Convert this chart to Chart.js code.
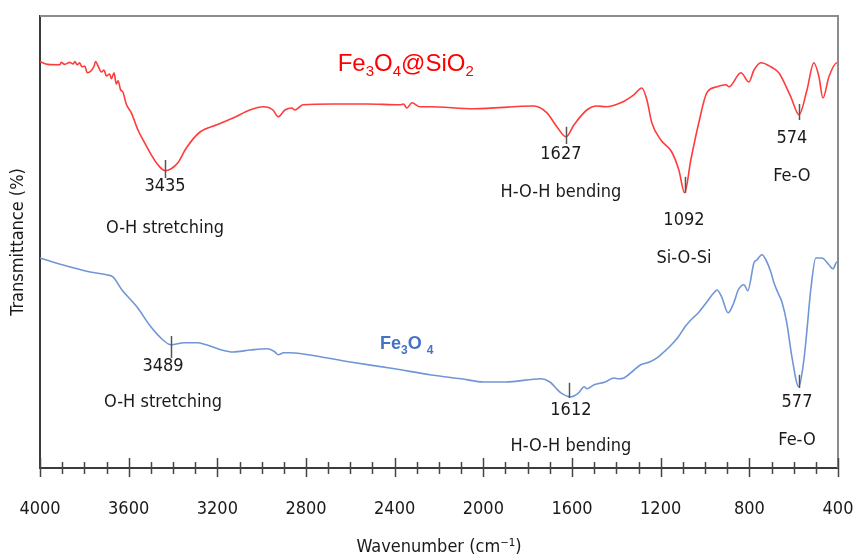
<!DOCTYPE html>
<html>
<head>
<meta charset="utf-8">
<script src="https://cdn.jsdelivr.net/npm/chart.js@4.4.1/dist/chart.umd.min.js"></script>
<style>
  html, body { margin: 0; padding: 0; background: #fff; }
  #wrap { width: 854px; height: 556px; }
</style>
</head>
<body>
<div id="wrap"><canvas id="ftirChart" width="854" height="556"></canvas></div>
<script>
// Fe3O4@SiO2 spectrum (wavenumber cm-1, transmittance a.u.)
const silicaWn = [4000, 3964, 3911, 3904, 3889, 3866, 3851, 3843, 3832, 3821, 3811, 3798, 3787, 3769, 3756, 3749, 3738, 3723, 3711, 3701,
    3686, 3678, 3666, 3656, 3648, 3636, 3626, 3611, 3588, 3558, 3528, 3498, 3468, 3435, 3408, 3378, 3340, 3278, 3202, 3129,
    3053, 2994, 2949, 2926, 2895, 2864, 2850, 2814, 2678, 2525, 2376, 2360, 2345, 2322, 2286, 2241, 2042, 1772, 1713, 1668,
    1627, 1591, 1533, 1488, 1447, 1380, 1321, 1285, 1262, 1240, 1199, 1150, 1118, 1092, 1064, 1028, 992, 946, 905, 892,
    838, 802, 779, 748, 703, 667, 613, 576, 540, 509, 486, 468, 441, 405, 400];
const silicaT = [101.6, 100.9, 100.8, 101.4, 100.9, 101.4, 101.0, 101.6, 100.8, 101.3, 100.3, 100.5, 98.8, 99.3, 100.5, 101.6, 100.5, 99.0, 99.5, 98.0,
    98.5, 97.3, 98.8, 96.0, 96.8, 94.5, 94.0, 91.0, 88.8, 84.5, 81.3, 78.3, 75.8, 74.3, 74.8, 76.3, 80.0, 84.0, 85.8, 87.5,
    89.5, 90.3, 89.5, 87.8, 89.5, 90.0, 89.5, 90.8, 91.0, 91.0, 90.8, 91.0, 90.0, 91.3, 90.3, 90.3, 89.8, 90.5, 88.8, 85.3,
    82.8, 85.8, 89.5, 90.5, 90.3, 91.3, 93.3, 95.0, 92.0, 86.3, 82.0, 79.0, 74.5, 68.8, 77.0, 86.3, 93.8, 95.3, 95.8, 95.3,
    98.8, 96.5, 99.5, 101.3, 100.3, 98.8, 92.8, 88.3, 94.5, 101.3, 97.8, 92.5, 97.8, 101.3, 101.3];

// Fe3O4 spectrum
const bareWn = [4000, 3900, 3774, 3700, 3671, 3630, 3563, 3500, 3445, 3409, 3350, 3292, 3250, 3180, 3130, 3050, 2976, 2940, 2926, 2900,
    2872, 2814, 2600, 2400, 2241, 2100, 1997, 1900, 1740, 1700, 1650, 1605, 1570, 1545, 1533, 1500, 1450, 1410, 1390, 1366,
    1320, 1290, 1250, 1210, 1186, 1160, 1120, 1090, 1064, 1030, 992, 960, 946, 925, 896, 870, 850, 824, 807, 779,
    766, 743, 725, 703, 689, 667, 653, 631, 608, 577, 554, 540, 523, 500, 473, 441, 423, 405, 400];
const bareT = [52.5, 50.8, 49.0, 48.3, 47.8, 44.5, 40.3, 35.3, 32.0, 30.8, 31.3, 31.3, 30.8, 29.5, 29.0, 29.5, 29.8, 29.0, 28.3, 28.8,
    28.8, 28.5, 26.5, 24.8, 23.3, 22.3, 21.5, 21.5, 22.3, 21.5, 18.8, 17.8, 18.8, 20.3, 19.8, 20.8, 21.5, 22.5, 22.3, 22.5,
    24.5, 25.8, 26.5, 27.8, 29.0, 30.3, 32.8, 35.3, 37.0, 38.8, 41.5, 43.8, 44.5, 42.8, 38.8, 41.3, 44.5, 45.8, 44.3, 51.3,
    52.0, 53.3, 52.0, 49.0, 46.3, 43.3, 41.5, 36.3, 27.8, 20.3, 27.0, 34.5, 44.5, 52.5, 52.5, 50.8, 49.8, 51.5, 51.5];

// x axis labels every 400, minor ticks every 100
const majorTicks = [4000, 3600, 3200, 2800, 2400, 2000, 1600, 1200, 800, 400];

// peak markers: wavenumber, marker top / bottom (transmittance)
const silicaMarkWn = [3435, 1627, 1092, 574];
const silicaMarkTop = [77.0, 85.3, 72.8, 91.0];
const silicaMarkBottom = [72.5, 81.0, 68.8, 87.0];
const bareMarkWn = [3410, 1614, 577];
const bareMarkTop = [33.0, 21.3, 23.3];
const bareMarkBottom = [27.5, 17.5, 20.0];

// peak annotations: text, anchor wavenumber, transmittance of number and of band name
const silicaPeakText = ['3435', '1627', '1092', '574'];
const silicaBandText = ['O-H stretching', 'H-O-H bending', 'Si-O-Si', 'Fe-O'];
const silicaTextWn = [3436, 1650, 1095, 608];
const silicaPeakY = [70.5, 78.3, 62.0, 82.5];
const silicaBandY = [60.0, 68.8, 52.5, 72.8];
const barePeakText = ['3489', '1612', '577'];
const bareBandText = ['O-H stretching', 'H-O-H bending', 'Fe-O'];
const bareTextWn = [3445, 1605, 585];
const barePeakY = [25.3, 14.5, 16.3];
const bareBandY = [16.3, 5.3, 7.0];

const FONT_FAMILY = '"DejaVu Sans Condensed", "Liberation Sans Narrow", sans-serif';
const NOTE_FONT = '18px ' + FONT_FAMILY;
const TEXT_COLOR = '#1a1a1a';

function toPoints(xs, ys) {
    return xs.map((x, i) => ({ x: x, y: ys[i] }));
}

// draws frame, axis ticks, peak markers and the annotation texts
const decorPlugin = {
    id: 'decor',
    afterDraw(chart) {
        const ctx = chart.ctx;
        const area = chart.chartArea;
        const xs = chart.scales.x;
        const ys = chart.scales.y;
        ctx.save();

        // top and right frame
        ctx.strokeStyle = '#8c8c8c';
        ctx.lineWidth = 2;
        ctx.beginPath();
        ctx.moveTo(area.left, area.top);
        ctx.lineTo(area.right, area.top);
        ctx.lineTo(area.right, area.bottom);
        ctx.stroke();

        // x axis tick marks crossing the axis line
        ctx.strokeStyle = '#444';
        ctx.lineWidth = 1.5;
        xs.ticks.forEach(t => {
            const px = Math.round(xs.getPixelForValue(t.value)) + 0.5;
            const major = majorTicks.includes(t.value);
            ctx.beginPath();
            ctx.moveTo(px, area.bottom - (major ? 10 : 6));
            ctx.lineTo(px, area.bottom + (major ? 9 : 6));
            ctx.stroke();
        });

        // peak markers
        ctx.strokeStyle = '#555';
        ctx.lineWidth = 1.5;
        const marks = (wn, top, bot) => wn.forEach((w, i) => {
            const px = Math.round(xs.getPixelForValue(w)) + 0.5;
            ctx.beginPath();
            ctx.moveTo(px, ys.getPixelForValue(top[i]));
            ctx.lineTo(px, ys.getPixelForValue(bot[i]));
            ctx.stroke();
        });
        marks(silicaMarkWn, silicaMarkTop, silicaMarkBottom);
        marks(bareMarkWn, bareMarkTop, bareMarkBottom);

        // annotation texts
        ctx.fillStyle = TEXT_COLOR;
        ctx.font = NOTE_FONT;
        ctx.textAlign = 'center';
        ctx.textBaseline = 'middle';
        const notes = (wn, peakTxt, peakY, bandTxt, bandY) => wn.forEach((w, i) => {
            const px = xs.getPixelForValue(w);
            ctx.fillText(peakTxt[i], px, ys.getPixelForValue(peakY[i]));
            ctx.fillText(bandTxt[i], px, ys.getPixelForValue(bandY[i]));
        });
        notes(silicaTextWn, silicaPeakText, silicaPeakY, silicaBandText, silicaBandY);
        notes(bareTextWn, barePeakText, barePeakY, bareBandText, bareBandY);

        // series labels with subscripts
        const label = (parts, x, y, font, subFont, color, subDrop) => {
            ctx.fillStyle = color;
            ctx.textAlign = 'left';
            ctx.textBaseline = 'alphabetic';
            let cx = x;
            parts.forEach(p => {
                ctx.font = p.sub ? subFont : font;
                ctx.fillText(p.t, cx, p.sub ? y + subDrop : y);
                cx += ctx.measureText(p.t).width + (p.gap || 0);
            });
        };
        label([{ t: 'Fe' }, { t: '3', sub: true }, { t: 'O' }, { t: '4', sub: true }, { t: '@SiO' }, { t: '2', sub: true }],
            xs.getPixelForValue(2657), ys.getPixelForValue(99.3),
            '24px "Liberation Sans", Arial, sans-serif', '15px "Liberation Sans", Arial, sans-serif', '#ff0000', 5);
        label([{ t: 'Fe' }, { t: '3', sub: true }, { t: 'O', gap: 5 }, { t: '4', sub: true }],
            xs.getPixelForValue(2466), ys.getPixelForValue(29.8),
            'bold 18px "Liberation Sans", Arial, sans-serif', 'bold 12px "Liberation Sans", Arial, sans-serif', '#4472c4', 5);

        ctx.restore();
    }
};

const ctx = document.getElementById('ftirChart').getContext('2d');
new Chart(ctx, {
    type: 'line',
    data: {
        datasets: [
            {
                label: 'Fe3O4@SiO2',
                data: toPoints(silicaWn, silicaT),
                borderColor: '#ff3b3b',
                borderWidth: 1.6,
                pointRadius: 0,
                fill: false,
                cubicInterpolationMode: 'monotone'
            },
            {
                label: 'Fe3O4',
                data: toPoints(bareWn, bareT),
                borderColor: '#7096d6',
                borderWidth: 1.6,
                pointRadius: 0,
                fill: false,
                cubicInterpolationMode: 'monotone'
            }
        ]
    },
    options: {
        responsive: false,
        animation: false,
        layout: { padding: { top: 16, right: 16, left: 0, bottom: 0 } },
        plugins: {
            legend: { display: false },
            tooltip: { enabled: false }
        },
        scales: {
            x: {
                type: 'linear',
                reverse: true,
                min: 400,
                max: 4000,
                afterFit: s => { s.height = 88; s.paddingLeft = 0; s.paddingRight = 0; },
                afterBuildTicks: s => {
                    s.ticks = [];
                    for (let v = 4000; v >= 400; v -= 100) s.ticks.push({ value: v });
                },
                grid: { display: false, drawTicks: false },
                border: { display: true, color: '#3c3c3c', width: 2 },
                ticks: {
                    autoSkip: false,
                    maxRotation: 0,
                    padding: 31,
                    color: TEXT_COLOR,
                    font: { family: FONT_FAMILY, size: 18 },
                    callback: v => majorTicks.includes(v) ? String(v) : ''
                },
                title: {
                    display: true,
                    text: 'Wavenumber (cm\u207B\u00B9)',
                    color: TEXT_COLOR,
                    padding: { top: 0, bottom: 0 },
                    font: { family: FONT_FAMILY, size: 18, lineHeight: 1 }
                }
            },
            y: {
                min: 0,
                max: 113,
                afterFit: s => { s.width = 40; s.paddingTop = 0; s.paddingBottom = 0; },
                grid: { display: false, drawTicks: false },
                border: { display: true, color: '#3c3c3c', width: 2 },
                ticks: { display: false },
                title: {
                    display: true,
                    text: 'Transmittance (%)',
                    color: TEXT_COLOR,
                    padding: { top: 9, bottom: 0 },
                    font: { family: FONT_FAMILY, size: 18, lineHeight: 1 }
                }
            }
        }
    },
    plugins: [decorPlugin]
});
</script>
</body>
</html>
